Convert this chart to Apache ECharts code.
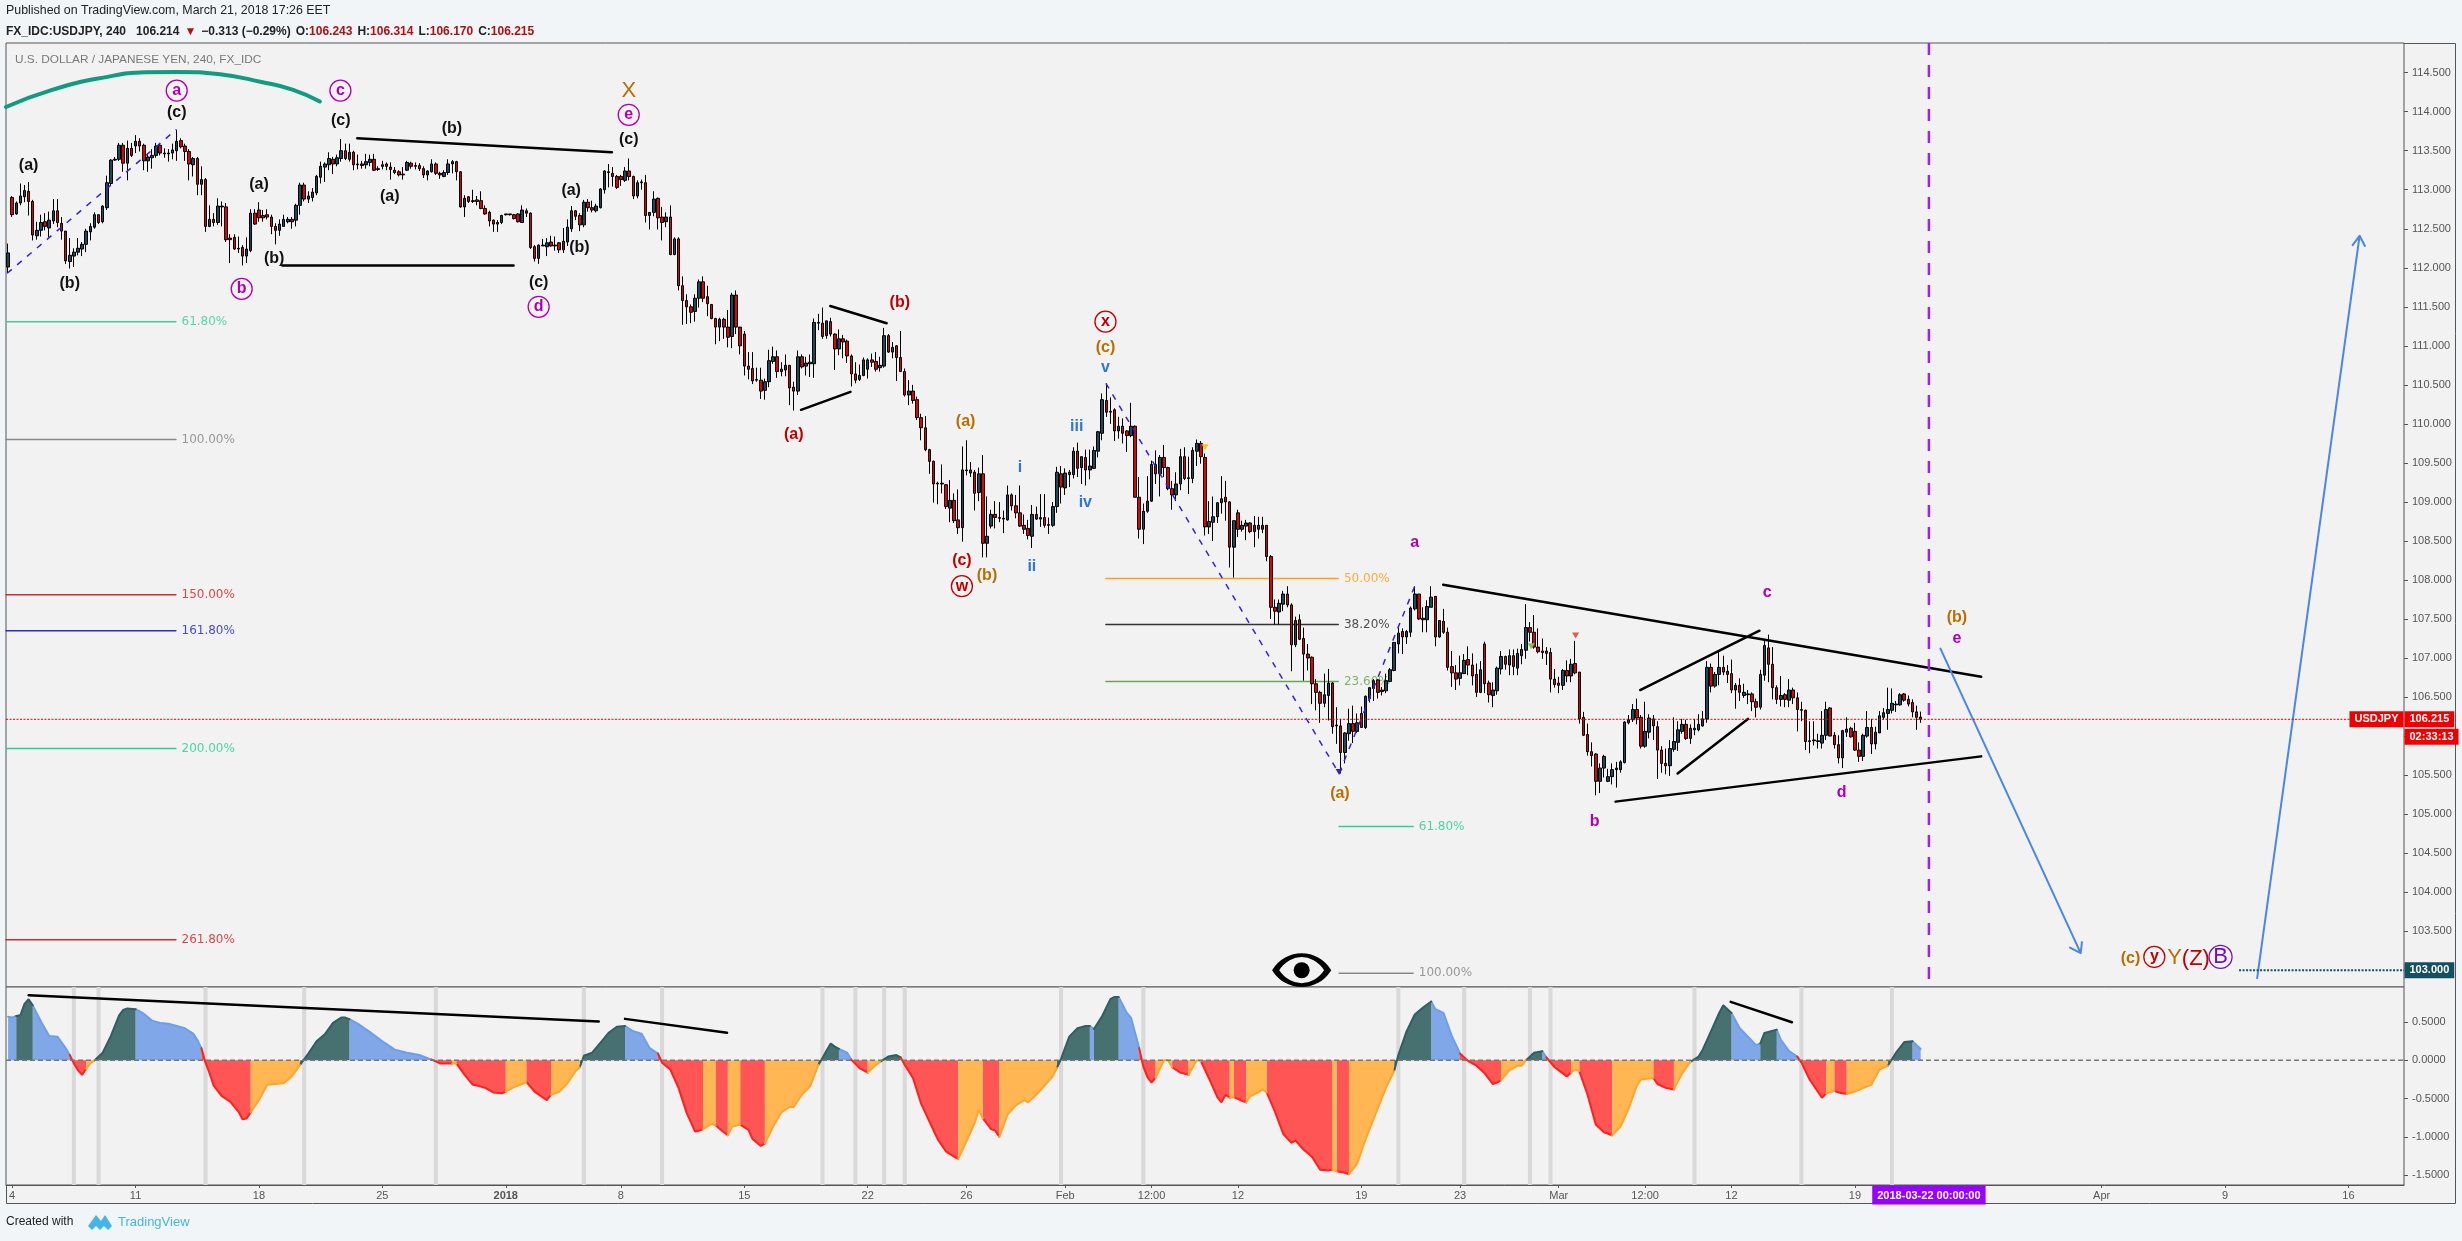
<!DOCTYPE html>
<html><head><meta charset="utf-8">
<style>html,body{margin:0;padding:0;background:#f1f5f8}#c{width:2462px;height:1241px}</style>
<script src="https://cdn.jsdelivr.net/npm/echarts@6/dist/echarts.min.js"></script>
</head><body><div id="c"></div>
<script>
// open, close, low, high per 4h bar
const decemberBars=[[112.01,112.19,111.93,112.31],[112.90,112.68,112.65,112.92],[112.69,112.83,112.68,112.85],[112.83,112.92,112.80,113.08],[112.91,112.99,112.84,113.06],[112.98,112.85,112.67,113.10],[112.85,112.42,112.35,112.87],[112.41,112.48,112.36,112.59],[112.48,112.58,112.40,112.68],[112.59,112.53,112.48,112.70],[112.51,112.61,112.39,112.72],[112.60,112.73,112.56,112.88],[112.73,112.58,112.52,112.88],[112.57,112.47,112.36,112.65],[112.47,112.09,112.05,112.47],[112.08,112.16,111.99,112.38],[112.15,112.20,112.01,112.25],[112.20,112.25,112.16,112.38],[112.24,112.30,112.15,112.33],[112.30,112.47,112.20,112.50],[112.46,112.53,112.35,112.57],[112.52,112.68,112.50,112.71],[112.68,112.58,112.56,112.68],[112.59,112.79,112.57,112.80],[112.77,113.09,112.74,113.18],[113.08,113.38,113.06,113.39],[113.38,113.39,113.37,113.42],[113.39,113.57,113.37,113.60],[113.57,113.34,113.23,113.60],[113.34,113.53,113.12,113.63],[113.53,113.44,113.42,113.60],[113.56,113.62,113.47,113.70],[113.62,113.56,113.49,113.66],[113.57,113.37,113.25,113.59],[113.37,113.42,113.23,113.47],[113.41,113.44,113.27,113.52],[113.44,113.56,113.41,113.60],[113.57,113.47,113.44,113.60],[113.46,113.47,113.41,113.53],[113.46,113.47,113.36,113.52],[113.47,113.51,113.39,113.59],[113.50,113.62,113.37,113.77],[113.63,113.55,113.53,113.66],[113.56,113.49,113.37,113.59],[113.49,113.33,113.12,113.52],[113.32,113.40,113.17,113.42],[113.40,113.07,112.93,113.42],[113.07,113.13,112.93,113.30],[113.13,112.53,112.46,113.15],[112.53,112.62,112.52,112.80],[112.62,112.58,112.53,112.70],[112.58,112.79,112.55,112.89],[112.78,112.79,112.53,112.85],[112.78,112.36,112.33,112.83],[112.38,112.36,112.06,112.43],[112.39,112.24,112.23,112.43],[112.25,112.24,112.19,112.40],[112.26,112.15,112.03,112.29],[112.15,112.24,112.06,112.39],[112.22,112.70,112.20,112.75],[112.70,112.56,112.55,112.75],[112.74,112.64,112.59,112.84],[112.67,112.64,112.59,112.74],[112.68,112.65,112.62,112.75],[112.65,112.53,112.43,112.68],[112.53,112.48,112.30,112.57],[112.48,112.56,112.41,112.62],[112.53,112.62,112.53,112.68],[112.59,112.62,112.57,112.65],[112.62,112.59,112.50,112.65],[112.61,112.80,112.53,112.82],[112.80,113.06,112.68,113.09],[113.06,112.88,112.85,113.09],[112.88,112.92,112.83,112.98],[112.90,112.97,112.85,113.02],[112.96,113.17,112.93,113.19],[113.16,113.30,113.08,113.36],[113.29,113.33,113.10,113.35],[113.32,113.40,113.25,113.48],[113.39,113.33,113.20,113.42],[113.33,113.41,113.30,113.45],[113.40,113.50,113.36,113.65],[113.50,113.40,113.38,113.59],[113.39,113.48,113.36,113.59],[113.48,113.32,113.25,113.50],[113.33,113.32,113.26,113.45],[113.31,113.33,113.27,113.37],[113.32,113.36,113.27,113.46],[113.35,113.39,113.30,113.45],[113.39,113.25,113.24,113.46],[113.27,113.26,113.24,113.30],[113.30,113.32,113.26,113.37],[113.33,113.30,113.25,113.35],[113.29,113.26,113.13,113.35],[113.25,113.22,113.20,113.29],[113.23,113.19,113.17,113.25],[113.20,113.19,113.13,113.29],[113.25,113.35,113.24,113.37],[113.34,113.30,113.27,113.36],[113.30,113.31,113.26,113.35],[113.31,113.27,113.24,113.34],[113.27,113.19,113.15,113.30],[113.19,113.24,113.12,113.25],[113.23,113.33,113.22,113.39],[113.33,113.21,113.19,113.35],[113.21,113.19,113.14,113.23],[113.17,113.22,113.16,113.25],[113.22,113.33,113.19,113.39],[113.33,113.36,113.21,113.38],[113.36,113.23,113.12,113.37],[113.23,112.78,112.77,113.24],[112.78,112.89,112.65,112.93],[112.91,112.85,112.83,112.92],[112.85,112.86,112.83,113.00],[112.87,112.85,112.80,112.92],[112.86,112.76,112.75,112.98],[112.76,112.69,112.68,112.80],[112.71,112.60,112.53,112.73],[112.61,112.56,112.46,112.62],[112.58,112.56,112.46,112.61],[112.58,112.67,112.56,112.68]];
const januaryBars=[[112.68,112.69,112.67,112.69],[112.68,112.69,112.67,112.69],[112.68,112.63,112.62,112.69],[112.69,112.59,112.58,112.70],[112.58,112.74,112.58,112.80],[112.73,112.70,112.65,112.76],[112.70,112.26,112.24,112.71],[112.27,112.12,112.08,112.29],[112.12,112.29,112.05,112.30],[112.28,112.29,112.28,112.37],[112.27,112.32,112.15,112.38],[112.33,112.28,112.27,112.41],[112.28,112.29,112.22,112.40],[112.32,112.23,112.19,112.33],[112.23,112.34,112.19,112.51],[112.33,112.52,112.28,112.62],[112.50,112.73,112.46,112.79],[112.73,112.66,112.61,112.74],[112.67,112.55,112.47,112.70],[112.55,112.84,112.52,112.87],[112.84,112.77,112.72,112.88],[112.77,112.74,112.71,112.86],[112.73,112.79,112.71,112.82],[112.77,113.01,112.76,113.02],[113.00,113.24,112.95,113.25],[113.22,113.23,113.03,113.33],[113.21,113.17,113.04,113.29],[113.17,113.03,113.01,113.19],[113.17,113.13,113.05,113.19],[113.12,113.24,113.10,113.29],[113.24,113.17,113.12,113.40],[113.17,112.92,112.88,113.18],[112.92,113.09,112.89,113.12],[113.09,113.10,113.00,113.13],[113.09,112.67,112.58,113.19],[112.67,112.71,112.49,112.71],[112.71,112.88,112.66,112.98],[112.89,112.64,112.49,112.90],[112.65,112.58,112.35,112.78],[112.59,112.65,112.52,112.71],[112.65,112.17,112.16,112.80],[112.17,112.37,112.16,112.39],[112.37,111.77,111.71,112.39],[111.77,111.58,111.27,111.89],[111.58,111.50,111.28,111.66],[111.50,111.43,111.29,111.53],[111.44,111.61,111.31,111.66],[111.61,111.82,111.49,111.85],[111.82,111.61,111.56,111.89],[111.63,111.54,111.38,111.77],[111.53,111.35,111.34,111.53],[111.35,111.24,111.02,111.36],[111.24,111.34,111.06,111.36],[111.34,111.24,111.09,111.36],[111.24,111.11,110.98,111.46],[111.12,111.65,110.97,111.68],[111.65,111.24,111.15,111.71],[111.24,111.00,110.89,111.24],[111.15,110.74,110.62,111.19],[110.74,110.70,110.57,110.92],[110.71,110.55,110.51,110.92],[110.56,110.57,110.54,110.72],[110.56,110.42,110.32,110.72],[110.43,110.54,110.31,110.58],[110.54,110.81,110.47,110.95],[110.80,110.86,110.77,110.99],[110.86,110.67,110.59,110.94],[110.67,110.70,110.61,110.79],[110.69,110.75,110.61,110.89],[110.75,110.46,110.24,110.75],[110.47,110.42,110.17,110.54],[110.42,110.86,110.37,110.94],[110.86,110.73,110.71,110.89],[110.74,110.78,110.62,110.86],[110.77,110.79,110.60,110.89],[110.77,111.30,110.59,111.35],[111.29,111.30,111.20,111.41],[111.29,111.12,111.09,111.49],[111.13,111.32,111.09,111.32],[111.31,111.15,111.12,111.36],[111.15,110.96,110.69,111.16],[110.96,111.09,110.88,111.21],[111.09,111.05,110.84,111.14],[111.06,110.87,110.78,111.08],[110.87,110.64,110.48,110.89],[110.64,110.56,110.52,110.79],[110.57,110.62,110.55,110.76],[110.62,110.82,110.61,110.85],[110.70,110.82,110.58,110.84],[110.82,110.79,110.73,110.90],[110.80,110.70,110.67,110.92],[110.72,110.75,110.67,110.86],[110.74,111.13,110.72,111.23],[111.13,110.92,110.91,111.15],[110.92,110.98,110.84,111.05],[111.00,110.85,110.55,111.01],[110.85,110.67,110.67,111.19],[110.67,110.37,110.35,110.71],[110.37,110.42,110.24,110.56],[110.42,110.30,110.26,110.50],[110.31,110.08,110.05,110.35],[110.08,109.95,109.79,110.13],[109.95,109.67,109.65,110.10],[109.67,109.52,109.36,109.68],[109.52,109.23,108.99,109.53],[109.24,109.23,108.97,109.26],[109.23,109.24,109.11,109.48],[109.22,108.94,108.91,109.23],[108.92,109.02,108.74,109.28],[109.02,108.76,108.73,109.11],[108.77,108.67,108.59,109.16],[108.67,109.41,108.49,109.71],[109.40,109.41,109.34,109.79],[109.41,109.37,109.32,109.51],[109.38,109.11,108.89,109.41],[109.12,109.36,109.01,109.44],[109.36,108.47,108.29,109.60],[108.47,108.56,108.29,109.07],[108.69,108.84,108.66,108.90],[108.84,108.80,108.66,109.01],[108.80,108.79,108.74,109.00]];
const februaryBars=[[108.78,108.79,108.60,108.89],[108.77,109.09,108.76,109.21],[109.09,108.95,108.89,109.11],[108.95,108.86,108.79,109.09],[108.86,108.69,108.68,109.21],[108.70,108.65,108.59,108.84],[108.66,108.57,108.52,108.77],[108.56,108.84,108.41,108.96],[108.84,108.78,108.77,108.94],[108.78,108.80,108.68,109.10],[108.80,108.70,108.67,109.10],[108.70,108.71,108.59,108.80],[108.70,108.94,108.68,109.00],[108.94,109.38,108.86,109.45],[109.36,109.19,108.98,109.46],[109.18,109.37,109.09,109.43],[109.38,109.35,109.19,109.41],[109.35,109.65,109.30,109.70],[109.65,109.43,109.32,109.76],[109.44,109.58,109.23,109.58],[109.57,109.41,109.21,109.67],[109.41,109.46,109.29,109.67],[109.43,109.66,109.42,109.71],[109.65,109.90,109.57,109.91],[109.88,110.31,109.79,110.39],[110.30,110.15,110.09,110.52],[110.15,110.16,110.00,110.34],[110.18,109.91,109.78,110.20],[109.91,109.97,109.81,110.09],[109.97,109.88,109.75,110.07],[109.91,109.85,109.64,109.92],[109.85,109.97,109.83,110.27],[109.97,109.06,109.06,109.98],[109.06,108.65,108.53,109.32],[108.65,108.88,108.46,108.98],[108.88,109.01,108.86,109.33],[109.01,109.48,109.00,109.53],[109.48,109.36,109.23,109.66],[109.36,109.57,109.07,109.60],[109.57,109.44,109.32,109.73],[109.44,109.17,109.15,109.45],[109.17,109.09,108.90,109.27],[109.09,109.23,109.01,109.38],[109.23,109.58,109.15,109.68],[109.58,109.30,109.28,109.70],[109.30,109.31,109.10,109.58],[109.30,109.66,109.24,109.70],[109.65,109.75,109.46,109.80],[109.75,109.58,109.49,109.78],[109.57,108.68,108.57,109.62],[108.68,108.75,108.59,109.01],[108.74,108.81,108.50,109.07],[108.81,108.99,108.73,109.00],[108.99,109.04,108.85,109.33],[109.06,109.00,108.76,109.27],[109.00,108.42,108.16,109.01],[108.42,108.76,108.03,108.76],[108.86,108.65,108.55,108.90],[108.65,108.70,108.62,108.76],[108.69,108.73,108.51,108.77],[108.73,108.62,108.60,108.74],[108.62,108.70,108.42,108.82],[108.70,108.65,108.53,108.81],[108.65,108.70,108.60,108.81],[108.70,108.30,108.24,108.70],[108.30,107.65,107.50,108.32],[107.65,107.60,107.43,107.75],[107.59,107.70,107.43,107.75],[107.69,107.82,107.60,107.86],[107.82,107.68,107.65,107.92],[107.68,107.17,106.83,107.70],[107.17,107.48,107.14,107.53],[107.49,107.24,107.23,107.56],[107.25,107.05,106.71,107.39],[107.05,107.00,106.84,107.18],[107.01,106.67,106.41,107.02],[106.67,106.56,106.33,106.73],[106.56,106.42,106.17,106.58],[106.42,106.53,106.37,106.80],[106.52,106.68,106.20,106.86],[106.68,106.12,106.03,106.69],[106.13,106.14,105.90,106.37],[106.13,105.79,105.52,106.22],[105.79,106.04,105.65,106.05],[106.03,106.16,105.94,106.35],[106.16,106.06,105.91,106.39],[106.06,106.17,106.04,106.29],[106.29,106.11,106.11,106.38],[106.11,106.51,106.09,106.52],[106.48,106.62,106.43,106.63],[106.61,106.71,106.45,106.73],[106.72,106.56,106.48,106.73],[106.57,106.59,106.52,106.63],[106.58,106.71,106.55,106.80],[106.70,106.85,106.69,106.87],[106.84,107.20,106.83,107.20],[107.18,107.32,107.06,107.39],[107.34,107.27,107.05,107.38],[107.27,107.34,107.18,107.36],[107.33,107.64,107.27,107.66],[107.63,107.82,107.61,107.92],[107.82,107.50,107.49,107.82],[107.49,107.51,107.33,107.65],[107.49,107.66,107.33,107.74],[107.65,107.78,107.65,107.92],[107.79,107.27,107.15,107.79],[107.27,107.48,107.26,107.48],[107.47,107.33,107.31,107.63],[107.33,106.88,106.84,107.39],[106.89,106.81,106.63,107.09],[106.81,106.73,106.59,106.91],[106.74,106.81,106.65,107.03],[106.80,106.97,106.80,107.05],[106.98,106.91,106.78,107.15],[106.91,106.77,106.65,107.06],[106.79,106.56,106.50,106.93],[106.56,106.85,106.55,106.96],[107.18,106.67,106.55,107.21],[106.68,106.53,106.43,106.71],[106.52,106.59,106.37,106.69],[106.58,106.87,106.53,106.89]];
const marchBars=[[106.86,107.02,106.79,107.09],[107.02,106.92,106.85,107.03],[106.91,107.03,106.78,107.11],[107.03,106.89,106.78,107.11],[106.87,107.06,106.78,107.12],[107.03,107.11,106.92,107.18],[107.10,107.39,106.99,107.69],[107.39,107.33,107.21,107.46],[107.33,107.14,107.12,107.55],[107.14,107.08,107.06,107.38],[107.09,107.07,106.99,107.25],[107.09,107.06,106.91,107.14],[107.07,106.73,106.56,107.13],[106.73,106.66,106.62,106.86],[106.68,106.65,106.55,106.76],[106.65,106.84,106.59,106.86],[106.84,106.77,106.69,106.97],[106.77,106.92,106.69,106.99],[106.93,106.81,106.79,107.22],[106.82,106.22,106.16,106.82],[106.24,106.01,106.00,106.31],[106.02,105.80,105.75,106.16],[105.80,105.75,105.61,105.92],[105.77,105.42,105.24,105.78],[105.42,105.59,105.27,105.65],[105.59,105.74,105.47,105.76],[105.42,105.48,105.41,105.58],[105.48,105.57,105.38,105.65],[105.59,105.57,105.34,105.67],[105.57,105.67,105.53,105.69],[105.66,106.18,105.65,106.19],[106.17,106.21,106.15,106.27],[106.21,106.34,106.18,106.41],[106.34,106.23,106.15,106.48],[106.24,105.87,105.84,106.27],[105.87,106.06,105.85,106.44],[106.05,106.23,105.97,106.28],[106.22,106.13,105.95,106.27],[106.12,105.82,105.45,106.19],[105.82,105.65,105.53,105.87],[105.65,105.62,105.51,105.84],[105.62,105.84,105.49,105.95],[105.83,105.93,105.80,106.24],[105.92,106.08,105.81,106.19],[106.06,106.15,106.03,106.22],[106.15,105.97,105.95,106.21],[105.97,106.10,105.90,106.15],[106.08,106.10,106.01,106.22],[106.08,106.15,106.06,106.28],[106.13,106.22,106.12,106.32],[106.22,106.88,106.17,106.96],[106.88,106.64,106.56,106.93],[106.64,106.79,106.62,106.82],[106.79,106.88,106.65,107.08],[106.88,106.82,106.78,107.03],[106.83,106.79,106.68,106.91],[106.80,106.59,106.55,106.98],[106.59,106.65,106.35,106.68],[106.65,106.56,106.45,106.74],[106.52,106.56,106.49,106.67],[106.53,106.54,106.41,106.59],[106.54,106.44,106.32,106.56],[106.44,106.37,106.24,106.48],[106.37,106.79,106.34,106.85],[106.78,107.16,106.71,107.24],[107.13,106.92,106.69,107.30],[106.92,106.62,106.47,107.14],[106.62,106.47,106.41,106.65],[106.47,106.52,106.38,106.77],[106.53,106.47,106.37,106.55],[106.46,106.59,106.37,106.73],[106.59,106.49,106.41,106.62],[106.49,106.34,106.06,106.56],[106.33,106.34,106.19,106.44],[106.33,105.93,105.82,106.34],[105.93,105.94,105.78,106.19],[105.94,105.95,105.88,106.19],[105.93,105.94,105.84,106.03],[105.91,106.01,105.84,106.32],[106.01,106.34,105.95,106.44],[106.36,106.00,106.00,106.37],[106.01,105.89,105.84,106.05],[105.89,105.72,105.65,106.01],[105.72,106.07,105.59,106.08],[106.05,106.09,105.99,106.24],[106.10,105.99,105.98,106.12],[106.06,105.82,105.81,106.17],[105.82,105.74,105.67,105.92],[105.74,106.01,105.68,106.03],[106.00,106.11,105.98,106.32],[106.11,105.90,105.77,106.22],[105.90,106.05,105.83,106.12],[106.04,106.26,106.04,106.32],[106.24,106.30,106.21,106.36],[106.29,106.34,106.08,106.62],[106.33,106.42,106.29,106.61],[106.40,106.41,106.31,106.45],[106.40,106.53,106.39,106.55],[106.54,106.46,106.44,106.55],[106.47,106.41,106.38,106.52],[106.43,106.31,106.24,106.47],[106.31,106.24,106.08,106.39],[106.243,106.215,106.170,106.314]];

// oscillator curve: bar numbers and values read at its vertices
const oscBars=[0,1,2,3,4,5,6,8,10,12,14,15,16,17,18,19,20,21,23,25,27,28,29,31,33,35,37,39,41,43,45,46,47,48,49,50,52,54,56,57,58,59,61,63,65,67,69,71,73,75,77,79,81,82,83,85,88,91,94,97,100,102,103,105,108,109,111,113,114,116,118,120,121,123,125,126,128,131,132,134,136,138,139,140,142,144,146,148,150,152,154,156,158,159,161,163,165,167,168,169,171,172,174,175,176,178,180,181,183,184,186,188,190,191,193,195,197,198,199,200,201,202,204,205,207,209,211,212,214,216,217,218,220,222,224,226,228,230,231,233,235,236,237,239,240,241,243,245,247,248,250,252,254,255,256,258,260,262,263,264,266,268,269,270,272,273,275,276,277,278,279,281,282,283,285,287,289,290,292,294,295,296,297,298,300,301,302,304,305,306,308,310,312,313,315,317,319,321,322,323,325,326,328,330,333,335,337,338,340,342,344,346,347,349,351,353,355,357,359,361,362,363,365,367,368,369,371,373,374,376,378,379,380,381,382,384,386,388,390,392,394,396,397,400,401,403,405,407,409,411,412,414,416,417,419,421,423,425,426,427,430,431,433,435,436,438,440,441,442,444,445,447,449,452,453,455,457,459,461,463,465];
const oscValues=[.57,.56,.58,.59,.74,.80,.72,.51,.32,.31,.16,.07,-.04,-.13,-.19,-.11,-.04,0,.10,.32,.59,.66,.68,.67,.61,.52,.49,.48,.45,.42,.35,.27,.16,-.03,-.17,-.33,-.47,-.54,-.67,-.77,-.76,-.68,-.52,-.32,-.31,-.30,-.21,-.06,.09,.25,.34,.49,.56,.56,.54,.48,.37,.25,.14,.10,.07,.03,.01,-.04,-.04,-.04,-.19,-.32,-.33,-.36,-.42,-.43,-.41,-.35,-.31,-.28,-.41,-.52,-.45,-.41,-.30,-.14,-.09,.06,.10,.23,.36,.44,.45,.38,.35,.16,.09,-.03,-.12,-.36,-.69,-.93,-.92,-.90,-.83,-.85,-.94,-.98,-.87,-.84,-.91,-1.03,-1.12,-1.09,-.87,-.68,-.61,-.61,-.45,-.34,-.06,.03,.13,.22,.18,.15,.10,.01,-.10,-.16,-.06,-.02,.05,.07,.04,-.06,-.23,-.57,-.80,-1.03,-1.19,-1.26,-1.29,-1.06,-.82,-.65,-.76,-.90,-.92,-1.00,-.71,-.59,-.52,-.55,-.45,-.33,-.21,-.10,.02,.31,.42,.45,.45,.41,.58,.80,.83,.83,.62,.56,.16,-.08,-.22,-.29,-.23,0,0,-.09,-.16,-.19,0,-.01,-.24,-.48,-.55,-.45,-.49,-.48,-.53,-.55,-.47,-.42,-.38,-.42,-.67,-.96,-1.08,-1.05,-1.17,-1.26,-1.43,-1.44,-1.43,-1.45,-1.47,-1.49,-1.35,-1.04,-.63,-.36,-.14,.07,.38,.60,.69,.77,.67,.62,.32,.09,-.01,-.07,-.17,-.31,-.29,-.26,-.13,-.07,-.07,0,.10,.12,.04,-.09,-.17,-.21,-.16,-.12,-.14,-.45,-.84,-.94,-.98,-.87,-.63,-.33,-.25,-.23,-.31,-.36,-.38,-.17,-.02,.05,.14,.38,.62,.72,.62,.42,.31,.20,.22,.36,.40,.27,.12,.05,-.03,-.25,-.41,-.49,-.43,-.40,-.42,-.44,-.41,-.34,-.32,-.12,-.07,.10,.24,.25,.15];
// bar at which the oscillator changes state
const oscStateBars=[0,2,6,15,19,21,31,47,59,71,83,103,108,109,121,126,132,139,150,158,169,172,175,178,184,197,202,205,209,212,217,231,237,241,255,263,264,270,275,279,283,287,290,297,298,301,306,322,323,326,337,346,353,363,369,373,374,380,382,390,400,405,409,419,426,430,435,442,444,447,457,463];
const oscStates=['b','d','b','r','o','d','b','r','o','d','b','r','o','r','o','r','o','d','b','r','o','r','o','r','o','d','b','r','o','d','r','o','r','o','d','b','d','b','r','o','r','o','r','o','r','o','r','o','r','o','d','b','r','o','d','b','r','o','r','o','r','o','d','b','d','b','r','o','r','o','d','b'];
const crossBars=[16,22,48,72,104,140,159,198,206,213,218,256,276,338,354,370,375,410,436,458];

// axis ticks
const xTickBars=[1,31,61,91,121,149,179,209,233,257,278,299,329,353,377,398,419,449,509,539,569];
const xTickLabels=['4','11','18','25','2018','8','15','22','26','Feb','12:00','12','19','23','Mar','12:00','12','19','Apr','9','16'];
const priceTicks=[103.5,104,104.5,105,105.5,106,106.5,107,107.5,108,108.5,109,109.5,110,110.5,111,111.5,112,112.5,113,113.5,114,114.5];
const oscTicks=[0.5,0,-0.5,-1,-1.5];

// annotations: drawings as [bar, price]
const greenArc=[[-0.5,114.06],[10.7,114.28],[23.5,114.44],[33.5,114.505],[41.3,114.51],[51.5,114.48],[61.6,114.38],[69.3,114.28],[75.8,114.13]];
const blackTrends=[[[84.9,113.66],[146.8,113.48]],[[66.7,112.03],[122.9,112.03]],[[199.9,111.51],[213.6,111.29]],[[192.8,110.18],[204.8,110.41]],[[348.9,107.94],[479.7,106.76]],[[390.8,105.16],[479.7,105.74]],[[396.8,106.59],[425.8,107.35]],[[405.9,105.52],[423,106.22]]];
const oscTrends=[[[5,.853],[143.6,.508]],[[150,.543],[174.8,.36]],[[418.8,.766],[433.7,.499]]];
const blueArrows=[[[469.8,107.12],[503.9,103.22]],[[501.3,103.29],[503.9,103.22],[504.2,103.36]],[[546.8,102.90],[571.7,112.41]],[[570,112.29],[571.7,112.41],[573,112.28]]];
const fibConnectors=[[[-0.2,111.93],[40.9,113.77]],[[266.9,110.52],[323.6,105.52],[342,107.92]]];
const fibLevels=[['61.80%',-0.5,40.8,111.31,'#3fcf9f'],['100.00%',-0.5,40.8,109.80,'#888888'],['150.00%',-0.5,40.8,107.81,'#d22c2c'],['161.80%',-0.5,40.8,107.35,'#2a2ad0'],['200.00%',-0.5,40.8,105.84,'#2fcf98'],['261.80%',-0.5,40.8,103.39,'#d22c2c'],['50.00%',266.9,323.4,108.02,'#ff9f1a'],['38.20%',266.9,323.4,107.43,'#333333'],['23.60%',266.9,323.4,106.70,'#6aa84f'],['61.80%',323.6,341.6,104.84,'#2fcf98'],['100.00%',323.6,341.6,102.96,'#888888']];
const lastPrice=106.215, targetPrice=103, targetFrom=542.4, forecastBar=467;
const blackLabels=[['(c)',41,113.99],['(c)',80.9,113.885],['(b)',107.9,113.78],['(c)',150.9,113.64],['(a)',5,113.31],['(a)',61,113.06],['(a)',92.8,112.91],['(a)',136.9,112.99],['(b)',138.9,112.26],['(b)',15,111.80],['(b)',64.7,112.12],['(c)',129,111.81]];
const redLabels=[['(b)',216.8,111.55],['(a)',191,109.86],['(c)',231.9,108.25]];
const brownLabels=[['(c)',266.8,110.98],['(a)',232.8,110.03],['(b)',238,108.05],['(b)',473.8,107.52],['(a)',323.8,105.26],['(c)',516,103.15]];
const blueLabels=[['v',266.8,110.72],['iii',259.8,109.96],['i',246,109.44],['iv',261.9,108.99],['ii',248.9,108.17]];
const magentaLabels=[['a',342,108.48],['c',427.7,107.84],['e',473.8,107.25],['b',385.7,104.90],['d',445.8,105.27]];
const magentaCircled=[['a',41,114.27],['c',80.8,114.27],['b',56.8,111.73],['d',129,111.5],['e',150.9,113.96]];
const redCircled=[['x',266.8,111.31],['w',231.9,107.92],['y',521.8,103.17]];
const purpleCircled=[['B',537.9,103.17]];
const bigBrown=[['X',150.9,114.27],['Y',526.7,103.16]];
const bigRed=[['(Z)',531.9,103.15]];
const triangles=[[291,109.70,'#f5c518'],[381.1,107.29,'#ef5350'],[370.3,107.15,'#8bc34a'],[323.6,105.54,'#3322cc']];

const FONT='"Liberation Sans", Arial, sans-serif';
const bars=decemberBars.concat(januaryBars,februaryBars,marchBars).map((b,i)=>[i,b[0],b[1],b[2],b[3]]);
const gap=[null,null];
const joined=paths=>{const out=[];paths.forEach((p,i)=>{if(i)out.push(gap);out.push(...p)});return out;};
const XMIN=-0.5,XMAX=582.5;

function lineSeries(data,color,width,extra,grid){
  return Object.assign({type:'line',data:data,symbol:'none',silent:true,animation:false,z:4,
    xAxisIndex:grid||0,yAxisIndex:grid||0,lineStyle:{color:color,width:width,cap:'round'}},extra||{});
}
function textSeries(rows,color,size,weight,z){
  return {type:'scatter',silent:true,animation:false,clip:false,z:z||6,xAxisIndex:0,yAxisIndex:0,symbolSize:1,
    itemStyle:{color:'transparent',opacity:1},
    data:rows.map(r=>({name:r[0],value:[r[1],r[2]]})),
    label:{show:true,position:'inside',formatter:'{b}',color:color,fontFamily:FONT,fontSize:size,fontWeight:weight}};
}
function circledSeries(rows,color,size,fontSize,weight){
  return {type:'scatter',silent:true,animation:false,clip:false,z:6,xAxisIndex:0,yAxisIndex:0,symbolSize:size,
    itemStyle:{color:'transparent',borderColor:color,borderWidth:1.3,opacity:1},
    data:rows.map(r=>({name:r[0],value:[r[1],r[2]]})),
    label:{show:true,position:'inside',formatter:'{b}',color:color,fontFamily:FONT,fontSize:fontSize,fontWeight:weight}};
}
function tag(text,k,p,side,bg,grid){
  return {type:'scatter',silent:true,animation:false,clip:false,z:8,xAxisIndex:grid||0,yAxisIndex:grid||0,symbolSize:1,
    itemStyle:{color:'transparent',opacity:1},data:[{name:text,value:[k,p]}],
    label:{show:true,position:side,distance:0,formatter:'{b}',color:'#fff',backgroundColor:bg,
      padding:side==='bottom'?[4,5,3,5]:[2,5,2,5],lineHeight:12,fontFamily:FONT,fontSize:11,fontWeight:'bold'}};
}

// oscillator series, one per state
const stateColors={b:['#6d9eeb','#80a8e8'],d:['#2f5f5f','#477070'],r:['#ff2020','#ff5555'],o:['#ffa52e','#ffb653']};
const oscSeries=Object.keys(stateColors).map(s=>{
  const paths=[];
  oscStateBars.forEach((start,i)=>{
    if(oscStates[i]!==s)return;
    const end=i+1<oscStateBars.length?oscStateBars[i+1]:Infinity;
    const seg=[];
    oscBars.forEach((k,j)=>{if(k>=start&&k<=end)seg.push([k,oscValues[j]])});
    paths.push(seg);
  });
  return lineSeries(joined(paths),stateColors[s][0],2,{z:3,areaStyle:{color:stateColors[s][1],opacity:1},
    markArea:s==='b'?{silent:true,itemStyle:{color:'#d9d9d9'},z:1,data:crossBars.map(k=>[{xAxis:k-.5},{xAxis:k+.5}])}:undefined},1);
});

const fibLines=fibLevels.map(f=>lineSeries([[f[1],f[3]],[f[2],f[3]]],f[4],1.5,{z:1}));
const fibTexts=fibLevels.map(f=>{
  const t=textSeries([[f[0],f[2]+1.25,f[3]]],f[4],12,'normal',1);
  t.label.position='right';t.label.distance=0;t.label.fontFamily='"DejaVu Sans", sans-serif';t.label.opacity=.85;return t;
});

const option={
  animation:false,backgroundColor:'transparent',
  title:[
    {left:6,top:5,padding:0,text:'Published on TradingView.com, March 21, 2018 17:26 EET',textStyle:{fontFamily:FONT,fontSize:12.4,fontWeight:'normal',color:'#222'}},
    {left:6,top:23,padding:0,text:'{b|FX_IDC:USDJPY, 240}  {n|106.214} {r|▼} {n|−0.313 (−0.29%)} {n|O:}{r|106.243} {n|H:}{r|106.314} {n|L:}{r|106.170} {n|C:}{r|106.215}',
      textStyle:{rich:{b:{fontFamily:FONT,fontSize:12,fontWeight:'bold',color:'#222'},n:{fontFamily:FONT,fontSize:12,color:'#222'},r:{fontFamily:FONT,fontSize:12,color:'#b01010'}}}},
    {left:15,top:54,padding:0,text:'U.S. DOLLAR / JAPANESE YEN, 240, FX_IDC',textStyle:{fontFamily:FONT,fontSize:11.8,fontWeight:'normal',color:'#787878'}},
    {left:6,top:1216,padding:0,text:'Created with',textStyle:{fontFamily:FONT,fontSize:12,fontWeight:'normal',color:'#222'}},
    {left:118,top:1216,padding:0,text:'TradingView',textStyle:{fontFamily:FONT,fontSize:13,fontWeight:'normal',color:'#45b5e8'}}
  ],
  graphic:[
    {type:'rect',z:-10,shape:{x:6.5,y:43.5,width:2449,height:1160},style:{fill:'#f2f2f2',stroke:'#555',lineWidth:1}},
    {type:'polygon',z:5,shape:{points:[[88,1226],[96,1215],[101,1221],[105,1215],[112,1226],[108,1230],[104,1226],[100,1230],[96,1226],[92,1230]]},style:{fill:'#45b5e8'}}
  ],
  grid:[
    {left:6,top:43,width:2398,height:944,show:true,backgroundColor:'#f2f2f2',borderColor:'#555',borderWidth:1},
    {left:6,top:987,width:2398,height:198,show:true,backgroundColor:'#f2f2f2',borderColor:'#555',borderWidth:1}
  ],
  xAxis:[
    {type:'value',gridIndex:0,min:XMIN,max:XMAX,show:false,splitLine:{show:false}},
    {type:'value',gridIndex:1,min:XMIN,max:XMAX,splitLine:{show:false},axisLine:{show:true,onZero:false,lineStyle:{color:'#555'}},
     axisTick:{show:true,length:3,customValues:xTickBars,lineStyle:{color:'#555'}},
     axisLabel:{customValues:xTickBars,margin:5,fontFamily:FONT,fontSize:11,color:'#555',
       rich:{y:{fontFamily:FONT,fontSize:11,fontWeight:'bold',color:'#555'}},
       formatter:v=>{const t=xTickLabels[xTickBars.indexOf(v)];return t==='2018'?'{y|2018}':t;}}}
  ],
  yAxis:[
    {type:'value',gridIndex:0,min:102.785,max:114.88,position:'right',splitLine:{show:false},axisLine:{show:false,onZero:false},
     axisTick:{show:true,length:4,customValues:priceTicks,lineStyle:{color:'#555'}},
     axisLabel:{customValues:priceTicks,margin:8,fontFamily:FONT,fontSize:11,color:'#555',formatter:v=>v.toFixed(3)}},
    {type:'value',gridIndex:1,min:-1.631,max:0.96,position:'right',splitLine:{show:false},axisLine:{show:false,onZero:false},
     axisTick:{show:true,length:4,customValues:oscTicks,lineStyle:{color:'#555'}},
     axisLabel:{customValues:oscTicks,margin:8,fontFamily:FONT,fontSize:11,color:'#555',formatter:v=>v.toFixed(4)}}
  ],
  series:[
    ...fibLines,...fibTexts,
    {type:'candlestick',xAxisIndex:0,yAxisIndex:0,data:bars,encode:{x:0,y:[1,2,3,4]},barWidth:3,z:3,silent:true,animation:false,large:false,progressive:0,
     itemStyle:{color:'#174b5c',color0:'#e60000',borderColor:'#000',borderColor0:'#000',borderColorDoji:'#000',borderWidth:1}},
    lineSeries(greenArc,'#119c82',4,{smooth:true,z:4}),
    lineSeries(joined(blackTrends),'#000',2.5),
    lineSeries(joined(fibConnectors),'#3322dd',1.5,{lineStyle:{color:'#3322dd',width:1.5,type:[6,7]}}),
    lineSeries(joined(blueArrows),'#4a86e8',2),
    lineSeries([[XMIN,lastPrice],[XMAX,lastPrice]],'#e00000',1,{z:5,lineStyle:{color:'#e00000',width:1,type:[2,1.5]}}),
    lineSeries([[targetFrom,targetPrice],[XMAX,targetPrice]],'#14505f',2,{z:5,lineStyle:{color:'#14505f',width:2,type:[2,1.5]}}),
    lineSeries([[forecastBar,114.88],[forecastBar,102.85]],'#a020f0',2,{z:5,lineStyle:{color:'#a020f0',width:2.5,type:[12,10]}}),
    {type:'scatter',silent:true,animation:false,z:5,xAxisIndex:0,yAxisIndex:0,symbol:'triangle',symbolRotate:180,symbolSize:[7,6],
     data:triangles.map(t=>({value:[t[0],t[1]],itemStyle:{color:t[2],opacity:1}}))},
    textSeries(blackLabels,'#111',16,'bold'),
    textSeries(redLabels,'#c00000',16,'bold'),
    textSeries(brownLabels,'#b86e00',16,'bold'),
    textSeries(blueLabels,'#3377cc',16,'bold'),
    textSeries(magentaLabels,'#b000b0',16,'bold'),
    textSeries(bigBrown,'#b86e00',22,'normal'),
    textSeries(bigRed,'#c00000',22,'normal'),
    circledSeries(magentaCircled,'#b000b0',21,16,'bold'),
    circledSeries(redCircled,'#c00000',21,16,'bold'),
    circledSeries(purpleCircled,'#7010c0',23,22,'normal'),
    // the eye drawing on the bottom edge of the price pane
    {type:'scatter',silent:true,animation:false,z:6,xAxisIndex:0,yAxisIndex:0,symbol:'path://M0 50 C 25 -10, 75 -10, 100 50 C 75 110, 25 110, 0 50 Z',symbolSize:[52,30],
     itemStyle:{color:'transparent',borderColor:'#000',borderWidth:5,opacity:1},data:[[314.5,103.0]]},
    {type:'scatter',silent:true,animation:false,z:7,xAxisIndex:0,yAxisIndex:0,symbolSize:16,itemStyle:{color:'#000',opacity:1},data:[[314.5,103.0]]},
    ...oscSeries,
    lineSeries([[XMIN,0],[XMAX,0]],'#777',1.5,{z:5,lineStyle:{color:'#777',width:1.5,type:[5,3]}},1),
    lineSeries(joined(oscTrends),'#000',2.5,{z:6},1),
    tag('USDJPY',XMAX,lastPrice,'left','#f00000'),
    tag('106.215',XMAX,lastPrice,'right','#f00000'),
    tag('02:33:13',XMAX,105.99,'right','#f00000'),
    tag('103.000',XMAX,targetPrice,'right','#14505f'),
    tag('2018-03-22 00:00:00',forecastBar,-1.631,'bottom','#9900ff',1)
  ]
};
echarts.init(document.getElementById('c'),null,{renderer:'canvas'}).setOption(option);
</script></body></html>
